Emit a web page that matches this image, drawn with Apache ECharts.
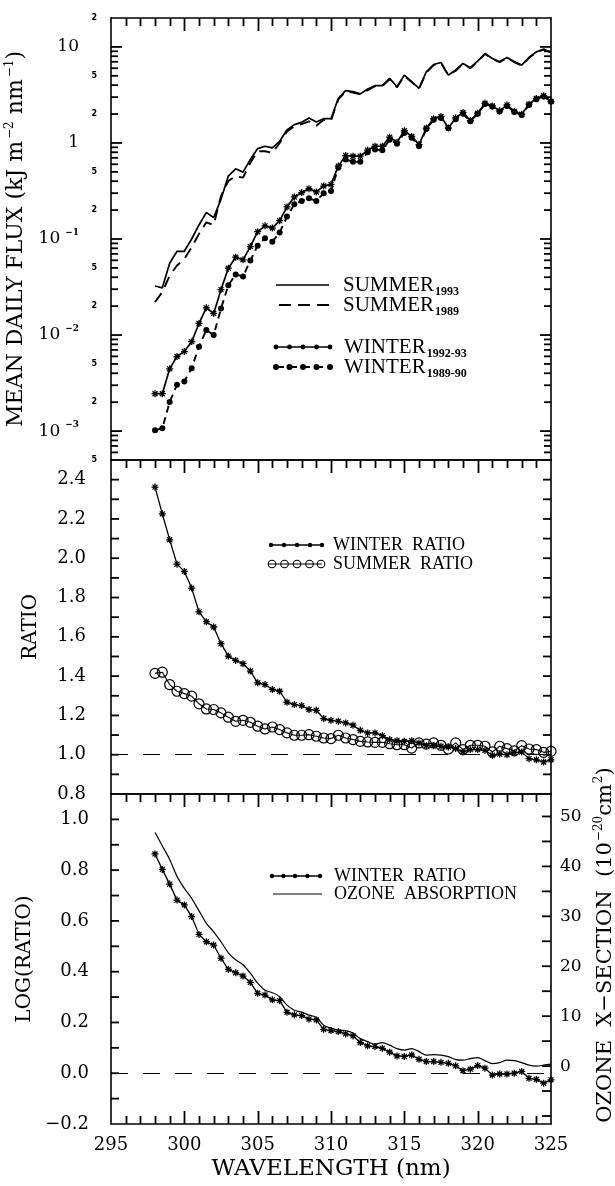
<!DOCTYPE html>
<html><head><meta charset="utf-8">
<script src="https://cdn.jsdelivr.net/npm/echarts@6/dist/echarts.min.js"></script>
<style>html,body{margin:0;padding:0;background:#fff}#c{width:615px;height:1186px}</style>
</head><body><div id="c"></div>
<script>
// ---------------- data ----------------
const WAVELENGTH = [298, 298.5, 299, 299.5, 300, 300.5, 301, 301.5, 302, 302.5, 303, 303.5, 304, 304.5, 305, 305.5, 306, 306.5, 307, 307.5, 308, 308.5, 309, 309.5, 310, 310.5, 311, 311.5, 312, 312.5, 313, 313.5, 314, 314.5, 315, 315.5, 316, 316.5, 317, 317.5, 318, 318.5, 319, 319.5, 320, 320.5, 321, 321.5, 322, 322.5, 323, 323.5, 324, 324.5, 325];

const SUMMER_1993 = [0.0324, 0.031, 0.056, 0.0745, 0.0745, 0.10, 0.14, 0.189, 0.167, 0.259, 0.452, 0.538, 0.497, 0.673, 0.874, 0.924, 0.888, 1.04, 1.37, 1.55, 1.64, 1.82, 1.65, 1.79, 1.79, 2.92, 3.51, 3.42, 3.24, 3.65, 3.95, 3.95, 4.70, 3.85, 5.09, 4.35, 3.71, 5.51, 6.56, 6.88, 5.09, 5.74, 6.73, 6.07, 7.11, 8.53, 7.57, 6.99, 7.76, 6.99, 6.46, 7.76, 8.88, 9.46, 8.74];
const SUMMER_1989 = [0.0221, 0.028, 0.0418, 0.053, 0.062, 0.082, 0.113, 0.149, 0.14, 0.281, 0.401, 0.452, 0.435, 0.621, 0.82, 0.82, 0.788, 1.0, 1.32, 1.49, 1.57, 1.68, 1.51, 1.74, 1.71, 2.85, 3.42, 3.35, 3.20, 3.55, 3.90, 3.92, 4.60, 3.80, 5.00, 4.30, 3.68, 5.40, 6.45, 6.80, 5.05, 5.65, 6.65, 6.00, 7.05, 8.45, 7.50, 6.95, 7.70, 6.95, 6.40, 7.70, 8.80, 9.40, 8.70];
const WINTER_1992_93 = [0.00245, 0.00245, 0.00445, 0.00597, 0.00673, 0.00853, 0.0132, 0.0192, 0.0168, 0.0297, 0.0497, 0.0646, 0.0607, 0.0834, 0.119, 0.137, 0.130, 0.155, 0.216, 0.274, 0.304, 0.334, 0.309, 0.356, 0.371, 0.574, 0.74, 0.728, 0.728, 0.84, 0.924, 0.924, 1.15, 1.02, 1.34, 1.17, 0.961, 1.43, 1.79, 1.89, 1.43, 1.82, 2.08, 1.71, 2.04, 2.59, 2.43, 2.16, 2.49, 2.13, 1.99, 2.53, 2.90, 3.11, 2.70];
const WINTER_1989_90 = [0.00102, 0.00107, 0.00201, 0.00304, 0.00329, 0.00452, 0.00757, 0.0113, 0.0100, 0.0189, 0.0329, 0.0428, 0.0407, 0.0597, 0.0853, 0.102, 0.0938, 0.117, 0.171, 0.230, 0.249, 0.266, 0.249, 0.299, 0.316, 0.551, 0.673, 0.636, 0.636, 0.80, 0.853, 0.84, 1.08, 0.984, 1.27, 1.13, 0.924, 1.40, 1.74, 1.82, 1.43, 1.77, 2.01, 1.68, 2.01, 2.55, 2.40, 2.13, 2.43, 2.10, 1.96, 2.49, 2.85, 3.04, 2.70];

const WINTER_RATIO = [2.362, 2.226, 2.094, 1.970, 1.933, 1.848, 1.727, 1.677, 1.650, 1.565, 1.502, 1.480, 1.463, 1.426, 1.366, 1.357, 1.332, 1.323, 1.267, 1.255, 1.250, 1.230, 1.226, 1.184, 1.175, 1.170, 1.162, 1.150, 1.124, 1.111, 1.111, 1.097, 1.077, 1.071, 1.068, 1.071, 1.060, 1.046, 1.046, 1.043, 1.039, 1.031, 1.014, 1.026, 1.026, 1.022, 0.997, 1.003, 1.000, 1.010, 1.014, 0.980, 0.974, 0.963, 0.974];
const SUMMER_RATIO = [1.414, 1.420, 1.357, 1.323, 1.311, 1.298, 1.259, 1.233, 1.230, 1.213, 1.191, 1.170, 1.175, 1.165, 1.145, 1.131, 1.141, 1.128, 1.111, 1.099, 1.099, 1.102, 1.094, 1.085, 1.082, 1.099, 1.085, 1.077, 1.068, 1.065, 1.063, 1.063, 1.056, 1.051, 1.051, 1.034, 1.060, 1.054, 1.060, 1.048, 1.029, 1.060, 1.026, 1.048, 1.048, 1.043, 1.014, 1.043, 1.031, 1.020, 1.046, 1.029, 1.026, 1.012, 1.017];

const LOG_WINTER_RATIO = [0.864, 0.803, 0.745, 0.682, 0.663, 0.617, 0.547, 0.518, 0.505, 0.453, 0.409, 0.396, 0.383, 0.358, 0.315, 0.308, 0.289, 0.286, 0.240, 0.230, 0.227, 0.213, 0.210, 0.173, 0.168, 0.164, 0.155, 0.147, 0.121, 0.108, 0.105, 0.098, 0.083, 0.068, 0.066, 0.072, 0.055, 0.046, 0.046, 0.043, 0.039, 0.029, 0.010, 0.016, 0.030, 0.020, -0.007, -0.003, -0.003, 0.000, 0.007, -0.020, -0.024, -0.039, -0.026];
const OZONE_XSECTION = [46.8, 44.1, 41.4, 38.0, 35.6, 33.6, 31.1, 28.6, 26.9, 24.9, 22.7, 21.3, 20.3, 18.6, 16.6, 15.2, 14.7, 13.9, 12.2, 11.2, 10.8, 10.2, 9.8, 8.2, 7.6, 7.2, 7.1, 6.6, 5.5, 4.9, 4.4, 4.7, 4.2, 3.5, 3.2, 3.5, 2.9, 2.2, 2.3, 2.2, 1.9, 1.3, 1.2, 1.5, 1.7, 1.1, 0.5, 0.7, 1.2, 1.1, 0.7, 0.2, 0.0, 0.2, 0.4];

// axis ranges, tick positions and tick labels
const WL_RANGE = [295, 325];
const WL_MAJOR_TICKS = [300, 305, 310, 315, 320];
const WL_MINOR_TICKS = [296, 297, 298, 299, 301, 302, 303, 304, 306, 307, 308, 309, 311, 312, 313, 314, 316, 317, 318, 319, 321, 322, 323, 324];
const FLUX_RANGE = [0.0005, 20];
const FLUX_MAJOR = [0.001, 0.01, 0.1, 1, 10];
const FLUX_MINOR_LABELS = [0.0005, 0.002, 0.005, 0.02, 0.05, 0.2, 0.5, 2, 5, 20];
const FLUX_MINOR_TICKS = [0.0006, 0.0007, 0.0008, 0.0009, 0.002, 0.003, 0.004, 0.005, 0.006, 0.007, 0.008, 0.009, 0.02, 0.03, 0.04, 0.05, 0.06, 0.07, 0.08, 0.09, 0.2, 0.3, 0.4, 0.5, 0.6, 0.7, 0.8, 0.9, 2, 3, 4, 5, 6, 7, 8, 9];
const RATIO_RANGE = [0.8, 2.5];
const RATIO_LABELS = [0.8, 1.0, 1.2, 1.4, 1.6, 1.8, 2.0, 2.2, 2.4];
const RATIO_TICKS = [0.9, 1.0, 1.1, 1.2, 1.3, 1.4, 1.5, 1.6, 1.7, 1.8, 1.9, 2.0, 2.1, 2.2, 2.3, 2.4];
const LOGR_RANGE = [-0.2, 1.1];
const LOGR_LABELS = [-0.2, 0.0, 0.2, 0.4, 0.6, 0.8, 1.0];
const LOGR_TICKS = [-0.1, 0.0, 0.1, 0.2, 0.3, 0.4, 0.5, 0.6, 0.7, 0.8, 0.9, 1.0];
const OZONE_RANGE = [-11.6, 54.5];
const OZONE_LABELS = [0, 10, 20, 30, 40, 50];
const OZONE_TICKS = [-10, -5, 0, 5, 10, 15, 20, 25, 30, 35, 40, 45, 50];
const RATIO_REF = 1.0;
const LOGR_REF = 0.0;

// ---------------- chart ----------------
const SERIF = 'DejaVu Serif';
const LSERIF = 'Liberation Serif';
const INK = '#000';
const STAR = 'path://M-0.9,-5L0.9,-5L0.9,5L-0.9,5Z M-5,-0.9L5,-0.9L5,0.9L-5,0.9Z M-4.2,-2.9L-2.9,-4.2L4.2,2.9L2.9,4.2Z M2.9,-4.2L4.2,-2.9L-2.9,4.2L-4.2,2.9Z';
const TICK_W = 1.8;

const pairs = arr => WAVELENGTH.map((w, i) => [w, arr[i]]);

const GRIDS = [
  {left: 111, right: 64, top: 18, height: 442},
  {left: 111, right: 64, top: 460, height: 334},
  {left: 111, right: 64, top: 794, height: 330}
];

function xAxisFor(grid, position, withLabels) {
  return {
    type: 'value', gridIndex: grid, position, min: WL_RANGE[0], max: WL_RANGE[1], interval: 5,
    axisLine: {show: true, onZero: false, lineStyle: {color: INK, width: 1.6}},
    splitLine: {show: false}, axisTick: {show: false}, minorTick: {show: false},
    axisLabel: {show: withLabels, margin: 12, color: INK, fontFamily: SERIF, fontSize: 18},
    name: withLabels ? 'WAVELENGTH (nm)' : '',
    nameLocation: 'middle', nameGap: 34,
    nameTextStyle: {fontFamily: SERIF, fontSize: 23, color: INK}
  };
}

function yAxisFor(grid, position, type, range, extra) {
  const base = {
    type, gridIndex: grid, position, min: range[0], max: range[1],
    axisLine: {show: true, onZero: false, lineStyle: {color: INK, width: 1.6}},
    splitLine: {show: false}, minorTick: {show: false}, axisTick: {show: false},
    axisLabel: {show: false}
  };
  if (type === 'log') base.logBase = 10;
  return Object.assign(base, extra);
}

function expLabel(v) {
  const e = Math.round(Math.log10(v));
  if (e === 1) return '10';
  if (e === 0) return '1';
  return '10{sup|\u2212' + Math.abs(e) + '}';
}
function minorLabel(v) {
  const e = Math.floor(Math.log10(v) + 1e-9);
  return String(Math.round(v / Math.pow(10, e)));
}
const fmt1 = v => (v < -1e-9 ? '\u2212' + Math.abs(v).toFixed(1) : Math.abs(v).toFixed(1));

const yAxes = [
  yAxisFor(0, 'left', 'log', FLUX_RANGE, {
    axisLabel: {show: true, customValues: FLUX_MAJOR, margin: 32, formatter: expLabel, color: INK,
      fontFamily: SERIF, fontSize: 17,
      rich: {sup: {fontFamily: SERIF, fontSize: 9, fontWeight: 'bold', color: INK, padding: [0, 0, 12, 5]}}},
    name: 'MEAN DAILY FLUX (kJ m{sup|\u22122} nm{sup|\u22121})',
    nameLocation: 'middle', nameRotate: 90, nameGap: 64,
    nameTextStyle: {fontFamily: SERIF, fontSize: 22, color: INK,
      rich: {sup: {fontFamily: SERIF, fontSize: 12, color: INK, padding: [0, 0, 14, 2]}}}
  }),
  yAxisFor(0, 'left', 'log', FLUX_RANGE, {
    axisLine: {show: false},
    axisLabel: {show: true, customValues: FLUX_MINOR_LABELS, margin: 14, formatter: minorLabel, color: INK,
      fontFamily: 'DejaVu Sans', fontSize: 8, fontWeight: 'bold'}
  }),
  yAxisFor(0, 'right', 'log', FLUX_RANGE, {}),
  yAxisFor(1, 'left', 'value', RATIO_RANGE, {
    axisLabel: {show: true, customValues: RATIO_LABELS, margin: 25, formatter: fmt1, color: INK,
      fontFamily: SERIF, fontSize: 18},
    name: 'RATIO', nameLocation: 'middle', nameRotate: 90, nameGap: 70,
    nameTextStyle: {fontFamily: SERIF, fontSize: 20, color: INK}
  }),
  yAxisFor(1, 'right', 'value', RATIO_RANGE, {}),
  yAxisFor(2, 'left', 'value', LOGR_RANGE, {
    axisLabel: {show: true, customValues: LOGR_LABELS, margin: 22, formatter: fmt1, color: INK,
      fontFamily: SERIF, fontSize: 18},
    name: 'LOG(RATIO)', nameLocation: 'middle', nameRotate: 90, nameGap: 62,
    nameTextStyle: {fontFamily: SERIF, fontSize: 20, color: INK}
  }),
  yAxisFor(2, 'right', 'value', OZONE_RANGE, {
    axisLabel: {show: true, customValues: OZONE_LABELS, margin: 9, formatter: v => String(Math.round(v)), color: INK,
      fontFamily: SERIF, fontSize: 17},
    name: 'OZONE  X\u2212SECTION  (10{sup|\u221220}cm{sup|2})', nameLocation: 'middle', nameRotate: 90, nameGap: 40,
    nameTextStyle: {fontFamily: SERIF, fontSize: 21, color: INK, padding: [0, 0, 0, 28],
      rich: {sup: {fontFamily: SERIF, fontSize: 12, color: INK, padding: [0, 0, 14, 1]}}}
  })
];

const xAxes = [
  xAxisFor(0, 'top', false),
  xAxisFor(0, 'bottom', false),
  xAxisFor(1, 'top', false),
  xAxisFor(1, 'bottom', false),
  xAxisFor(2, 'top', false),
  xAxisFor(2, 'bottom', true)
];

// value-axis ticks: bar symbols at the grid edge, placed through the axes' scales
function tickMarks(xIdx, yIdx, points, size, offset) {
  return {
    type: 'scatter', xAxisIndex: xIdx, yAxisIndex: yIdx, data: points,
    symbol: 'rect', symbolSize: size, symbolOffset: offset,
    itemStyle: {color: INK, opacity: 1}, silent: true, clip: false, z: 5,
    emphasis: {disabled: true}
  };
}
function valTicks(xIdx, yIdx, values, len, onLeft) {
  const xEdge = onLeft ? WL_RANGE[0] : WL_RANGE[1];
  const s = onLeft ? 1 : -1;
  return tickMarks(xIdx, yIdx, values.map(v => [xEdge, v]), [len, TICK_W], [s * len / 2, 0]);
}

const refLine = (val) => ({
  silent: true, symbol: ['none', 'none'], animation: false,
  label: {show: false},
  lineStyle: {color: INK, width: 1.2, type: [17, 15]},
  data: [{yAxis: val}]
});

const series = [
  {name: 'SUMMER 1993', type: 'line', xAxisIndex: 0, yAxisIndex: 0, data: pairs(SUMMER_1993),
    showSymbol: false, symbol: 'none', lineStyle: {color: INK, width: 1.7}},
  {name: 'SUMMER 1989', type: 'line', xAxisIndex: 0, yAxisIndex: 0, data: pairs(SUMMER_1989),
    showSymbol: false, symbol: 'none', lineStyle: {color: INK, width: 1.9, type: [11, 7]}},
  {name: 'WINTER 1992-93', type: 'line', xAxisIndex: 0, yAxisIndex: 0, data: pairs(WINTER_1992_93),
    symbol: STAR, symbolSize: 7, itemStyle: {color: INK}, lineStyle: {color: INK, width: 1.7}},
  {name: 'WINTER 1989-90', type: 'line', xAxisIndex: 0, yAxisIndex: 0, data: pairs(WINTER_1989_90),
    symbol: 'circle', symbolSize: 6, itemStyle: {color: INK}, lineStyle: {color: INK, width: 1.9, type: [7, 5]}},

  {name: 'WINTER RATIO', type: 'line', xAxisIndex: 2, yAxisIndex: 3, data: pairs(WINTER_RATIO),
    symbol: STAR, symbolSize: 7, itemStyle: {color: INK}, lineStyle: {color: INK, width: 1.3},
    markLine: refLine(RATIO_REF)},
  {name: 'SUMMER RATIO', type: 'line', xAxisIndex: 2, yAxisIndex: 3, data: pairs(SUMMER_RATIO),
    symbol: 'circle', symbolSize: 10, itemStyle: {color: 'rgba(0,0,0,0)', borderColor: INK, borderWidth: 1.2},
    lineStyle: {color: INK, width: 1.1}},

  {name: 'LOG WINTER RATIO', type: 'line', xAxisIndex: 4, yAxisIndex: 5, data: pairs(LOG_WINTER_RATIO),
    symbol: STAR, symbolSize: 7, itemStyle: {color: INK}, lineStyle: {color: INK, width: 1.3},
    markLine: refLine(LOGR_REF)},
  {name: 'OZONE ABSORPTION', type: 'line', xAxisIndex: 4, yAxisIndex: 6, data: pairs(OZONE_XSECTION),
    showSymbol: false, symbol: 'none', smooth: 0.3, lineStyle: {color: INK, width: 1.2}},

  valTicks(0, 0, FLUX_MAJOR, 11, true), valTicks(0, 0, FLUX_MAJOR, 11, false),
  valTicks(0, 0, FLUX_MINOR_TICKS, 7, true), valTicks(0, 0, FLUX_MINOR_TICKS, 7, false),
  valTicks(2, 3, RATIO_TICKS, 8, true), valTicks(2, 3, RATIO_TICKS, 8, false),
  valTicks(4, 5, LOGR_TICKS, 8, true),
  valTicks(4, 6, OZONE_TICKS, 9, false)
];

// ---------------- legends (drawn as graphic keys) ----------------
const legendText = (x, y, main, sub, size) => ({
  type: 'text', x, y, silent: true,
  style: {
    text: sub ? '{m|' + main + '}{s|' + sub + '}' : main,
    fill: INK, font: size + 'px "' + LSERIF + '"', verticalAlign: 'middle', align: 'left',
    rich: {
      m: {fontFamily: LSERIF, fontSize: size, fill: INK},
      s: {fontFamily: LSERIF, fontSize: 12, fontWeight: 'bold', fill: INK, padding: [14, 0, 0, 1]}
    }
  }
});
const keyLine = (x1, x2, y, width, dash) => ({
  type: 'line', silent: true, shape: {x1, y1: y, x2, y2: y},
  style: {stroke: INK, lineWidth: width, lineDash: dash || null}
});
const keyDots = (xs, y, r, hollow) => xs.map(x => ({
  type: 'circle', silent: true, shape: {cx: x, cy: y, r},
  style: hollow ? {fill: 'rgba(0,0,0,0)', stroke: INK, lineWidth: 1.1} : {fill: INK}
}));

const legendGraphic = [
  keyLine(276, 329, 285, 1.7),
  legendText(343, 285, 'SUMMER', '1993', 21),
  keyLine(279, 329, 305, 1.9, [12, 7]),
  legendText(343, 305, 'SUMMER', '1989', 21),
  keyLine(276, 330, 347, 1.7),
  ...keyDots([276, 289.5, 303, 316.5, 330], 347, 2.4),
  legendText(344, 347, 'WINTER', '1992-93', 21),
  keyLine(276, 330, 367, 1.9, [8, 5]),
  ...keyDots([276, 289.5, 303, 316.5, 330], 367, 3),
  legendText(344, 367, 'WINTER', '1989-90', 21),
  keyLine(270, 323, 545, 1.4),
  ...keyDots([271, 284, 297, 310, 322], 545, 2.2),
  legendText(333, 545, 'WINTER\u2002RATIO', null, 18),
  keyLine(268, 322, 564, 1.1),
  ...keyDots([272, 284.5, 297, 309.5, 321], 564, 3.8, true),
  legendText(333, 564, 'SUMMER\u2002RATIO', null, 18),
  keyLine(271, 322, 876, 1.4),
  ...keyDots([272, 283.5, 295, 307.5, 320], 876, 2.2),
  legendText(334, 876, 'WINTER\u2002RATIO', null, 18),
  keyLine(273, 322, 894, 1.1),
  legendText(334, 894, 'OZONE\u2002ABSORPTION', null, 18)
];

const chart = echarts.init(document.getElementById('c'), null, {renderer: 'canvas'});
chart.setOption({
  animation: false,
  backgroundColor: '#fff',
  tooltip: {show: false},
  grid: GRIDS.map(g => Object.assign({outerBoundsMode: 'none', containLabel: false}, g)),
  xAxis: xAxes,
  yAxis: yAxes,
  series,
  graphic: legendGraphic
});

// wavelength ticks: positions converted through the chart's own axes
const PANEL_EDGES = [
  {grid: 0, edges: [[FLUX_RANGE[1], 1]]},
  {grid: 1, edges: [[RATIO_RANGE[1], 1]]},
  {grid: 2, edges: [[LOGR_RANGE[1], 1], [LOGR_RANGE[0], -1]]}
];
const tickGraphic = [];
PANEL_EDGES.forEach(p => {
  p.edges.forEach(([yv, dir]) => {
    const addTicks = (vals, len) => vals.forEach(v => {
      const pt = chart.convertToPixel({gridIndex: p.grid}, [v, yv]);
      if (!pt || !isFinite(pt[0]) || !isFinite(pt[1])) return;
      const x = Math.round(pt[0]) + 0.5;
      const y = Math.round(pt[1]);
      tickGraphic.push({
        type: 'line', silent: true, z: 50,
        shape: {x1: x, y1: y, x2: x, y2: y + dir * len},
        style: {stroke: INK, lineWidth: TICK_W}
      });
    });
    addTicks(WL_MAJOR_TICKS, 13);
    addTicks(WL_MINOR_TICKS, 8);
  });
});
chart.setOption({graphic: legendGraphic.concat(tickGraphic)});
</script>
</body></html>
